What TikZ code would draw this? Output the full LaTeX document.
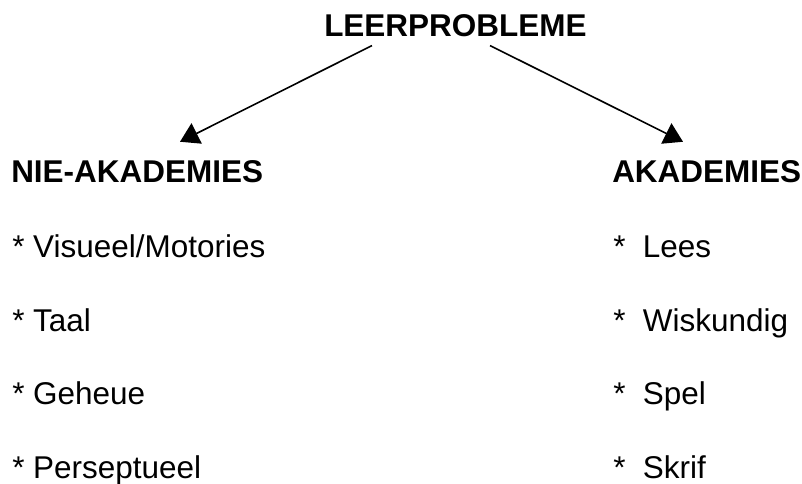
\documentclass[tikz,border=0pt]{standalone}
\usepackage{fontspec}
\setmainfont{Liberation Sans}
\usetikzlibrary{arrows.meta,calc}
\newcommand{\grootskrif}{\fontsize{23.6}{28}\selectfont}
\tikzset{kop/.style = {inner sep=0pt, anchor=base west, font=\grootskrif\bfseries},
  item/.style = {inner sep=0pt, anchor=base west, font=\grootskrif},
  pyl/.style = {line width=1.2pt, -{Triangle[length=14pt, width=17pt]}}}

\begin{document}
\begin{tikzpicture}[x=.75pt, y=-.75pt]
        \useasboundingbox (0,0) rectangle (802,484);
        \node[kop] (leer) at (324,37) {LEERPROBLEME};
        \node[kop] (nie) at (11,183) {NIE-AKADEMIES};
        \node[kop] (aka) at (612,183) {AKADEMIES};
        \foreach \t [count=\i] in {Visueel/Motories, Taal, Geheue, Perseptueel}
          \node[item] (nie\i) at (12,184+73.5*\i) {* \t};
        \foreach \t [count=\i] in {Lees, Wiskundig, Spel, Skrif}
          \node[item] (aka\i) at (613,184+73.5*\i) {*\ \ \t};
        \draw[pyl] ($(leer.south west)+(48,8)$) -- ($(nie.north west)+(169,-19)$);
        \draw[pyl] ($(leer.south west)+(166,8)$) -- ($(aka.north west)+(71,-19)$);
      \end{tikzpicture}
\end{document}
